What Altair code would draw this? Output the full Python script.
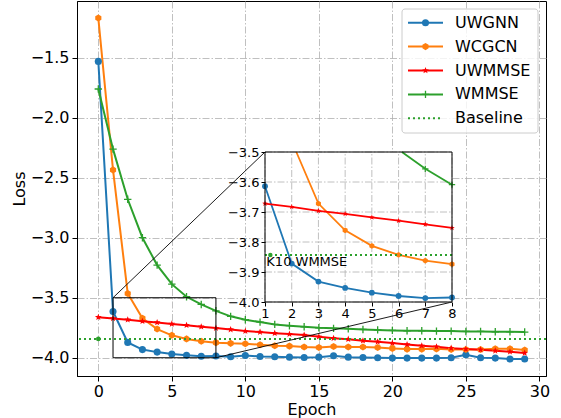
import math
import altair as alt
import pandas as pd

# ---------------- data ----------------
epochs = list(range(30))
uwgnn = [-1.531, -3.614, -3.872, -3.932, -3.953, -3.969, -3.980, -3.987, -3.985, -3.992,
         -3.981, -3.989, -3.992, -3.995, -3.998, -3.995, -3.983, -3.995, -3.998, -4.000,
         -4.003, -4.003, -4.003, -4.003, -4.000, -3.975, -4.000, -4.003, -4.011, -4.011]
wcgcn = [-1.170, -2.435, -3.464, -3.672, -3.761, -3.813, -3.843, -3.862, -3.874, -3.880,
         -3.883, -3.892, -3.900, -3.903, -3.911, -3.914, -3.906, -3.911, -3.911, -3.914,
         -3.922, -3.928, -3.928, -3.926, -3.931, -3.931, -3.931, -3.925, -3.925, -3.936]
uwmmse = [-3.662, -3.672, -3.683, -3.696, -3.706, -3.718, -3.729, -3.741, -3.753, -3.765,
          -3.778, -3.786, -3.795, -3.803, -3.811, -3.825, -3.837, -3.845, -3.858, -3.867,
          -3.878, -3.889, -3.900, -3.908, -3.920, -3.928, -3.933, -3.942, -3.950, -3.961]
wmmse = [-1.761, -2.262, -2.680, -3.000, -3.228, -3.387, -3.492, -3.556, -3.609, -3.655,
         -3.683, -3.703, -3.722, -3.733, -3.742, -3.750, -3.755, -3.758, -3.764, -3.768,
         -3.772, -3.775, -3.775, -3.778, -3.778, -3.781, -3.781, -3.784, -3.784, -3.786]
baseline_value = -3.843
baseline_label = "K10 WMMSE"

series_names = ["UWGNN", "WCGCN", "UWMMSE", "WMMSE"]
legend_names = series_names + ["Baseline"]
series_colors = ["#1f77b4", "#ff7f0e", "#ff0000", "#2ca02c", "#2ca02c"]

x_ticks = [0, 5, 10, 15, 20, 25, 30]
y_ticks = [-4.0, -3.5, -3.0, -2.5, -2.0, -1.5]
inset_x_ticks = [1, 2, 3, 4, 5, 6, 7, 8]
inset_y_ticks = [-4.0, -3.9, -3.8, -3.7, -3.6, -3.5]
inset_xlim = [1, 8]
inset_ylim = [-4.0, -3.5]

# ---------------- layout (pixels) ----------------
W, H = 469, 375
FONT = "DejaVu Sans"
IX_RANGE = [188, 375]
IY_RANGE = [301, 151]

# ---------------- marker paths ----------------
hexagon = "M0,-1L0.866,-0.5L0.866,0.5L0,1L-0.866,0.5L-0.866,-0.5Z"
_pts = []
for k in range(10):
    r = 1.0 if k % 2 == 0 else 0.42
    a = math.radians(-90 + 36 * k)
    _pts.append(f"{r*math.cos(a):.3f},{r*math.sin(a):.3f}")
star = "M" + "L".join(_pts) + "Z"
plus = "M-1,0L1,0M0,-1L0,1"

all_series = {"UWGNN": uwgnn, "WCGCN": wcgcn, "UWMMSE": uwmmse, "WMMSE": wmmse}
rows = []
for name, vals in all_series.items():
    for e, v in zip(epochs, vals):
        rows.append({"epoch": e, "loss": v, "series": name})
df = pd.DataFrame(rows)


def inset_view(xs, ys, lo, hi, ytop):
    """Points of a line as seen through the inset window (clipped at its top edge)."""
    out = []
    for i in range(len(xs)):
        if xs[i] < lo or xs[i] > hi:
            continue
        if ys[i] <= ytop:
            if out == [] and i > 0 and xs[i - 1] >= lo and ys[i - 1] > ytop:
                t = (ys[i - 1] - ytop) / (ys[i - 1] - ys[i])
                out.append((xs[i - 1] + t * (xs[i] - xs[i - 1]), ytop))
            out.append((xs[i], ys[i]))
    return out


irows = []
for name, vals in all_series.items():
    for (e, v) in inset_view(epochs, vals, inset_xlim[0], inset_xlim[1], inset_ylim[1]):
        irows.append({"epoch": e, "loss": v, "series": name})
idf = pd.DataFrame(irows)
ipts = df[(df.epoch >= inset_xlim[0]) & (df.epoch <= inset_xlim[1]) &
          (df.loss >= inset_ylim[0]) & (df.loss <= inset_ylim[1])]

color = alt.Color("series:N", scale=alt.Scale(domain=legend_names, range=series_colors), legend=None)
shape = alt.Shape("series:N", scale=alt.Scale(domain=["UWGNN", "WCGCN", "UWMMSE"],
                                               range=["circle", hexagon, star]), legend=None)

grid_dash = [7, 2, 1.5, 2]
grid_color = "#b0b0b0"

# ---------------- main panel ----------------
mxs = alt.Scale(domain=[-1.45, 30.45], nice=False, zero=False)
mys = alt.Scale(domain=[-4.152, -1.028], nice=False, zero=False)
mxa = alt.Axis(values=x_ticks, grid=True, gridDash=grid_dash, gridColor=grid_color, gridWidth=0.8,
               labelFontSize=16, titleFontSize=16, tickSize=5, labelPadding=2, titlePadding=2,
               labelFlush=False, titleFontWeight="normal", domainColor="black", tickColor="black",
               labelColor="black", titleColor="black")
mya = alt.Axis(values=y_ticks, format=".1f", grid=True, gridDash=grid_dash, gridColor=grid_color,
               gridWidth=0.8, labelFontSize=16, titleFontSize=16, tickSize=5, labelPadding=3,
               titlePadding=3, labelFlush=False, titleFontWeight="normal", domainColor="black",
               tickColor="black", labelColor="black", titleColor="black")


def MX(field=None, datum=None):
    if datum is not None:
        return alt.XDatum(datum, type="quantitative", scale=mxs, axis=mxa, title="Epoch")
    return alt.X(field, type="quantitative", scale=mxs, axis=mxa, title="Epoch")


def MY(field=None, datum=None):
    if datum is not None:
        return alt.YDatum(datum, type="quantitative", scale=mys, axis=mya, title="Loss")
    return alt.Y(field, type="quantitative", scale=mys, axis=mya, title="Loss")


base = alt.Chart(df)
m_lines = base.mark_line(strokeWidth=2).encode(x=MX("epoch"), y=MY("loss"), color=color,
                                               detail="series:N")
m_pts = base.transform_filter(alt.datum.series != "WMMSE").mark_point(
    filled=True, size=50, opacity=1).encode(x=MX("epoch"), y=MY("loss"), color=color, shape=shape)
m_plus = base.transform_filter(alt.datum.series == "WMMSE").mark_point(
    shape=plus, filled=False, size=55, strokeWidth=1.3, opacity=1, color="#2ca02c").encode(
    x=MX("epoch"), y=MY("loss"))
one = alt.Data(values=[{}])
m_base = alt.Chart(one).mark_rule(color="#2ca02c", strokeWidth=2, strokeDash=[2, 3]).encode(
    y=MY(datum=baseline_value))
m_base_dot = alt.Chart(one).mark_point(filled=True, size=22, opacity=1, color="#2ca02c").encode(
    x=MX(datum=0), y=MY(datum=baseline_value))
m_zoom = alt.Chart(one).mark_rect(fillOpacity=0, stroke="black", strokeWidth=1).encode(
    x=MX(datum=inset_xlim[0]), x2=alt.X2Datum(inset_xlim[1]),
    y=MY(datum=inset_ylim[0]), y2=alt.Y2Datum(inset_ylim[1]))
m_conn1 = alt.Chart(one).mark_rule(color="black", strokeWidth=0.9).encode(
    x=MX(datum=inset_xlim[0]), y=MY(datum=inset_ylim[1]),
    x2=alt.value(IX_RANGE[0]), y2=alt.value(IY_RANGE[1]))
m_conn2 = alt.Chart(one).mark_rule(color="black", strokeWidth=0.9).encode(
    x=MX(datum=inset_xlim[1]), y=MY(datum=inset_ylim[0]),
    x2=alt.value(IX_RANGE[1]), y2=alt.value(IY_RANGE[0]))

main = alt.layer(m_lines, m_pts, m_plus, m_base, m_base_dot, m_zoom, m_conn1, m_conn2)

# ---------------- inset panel ----------------
ixs = alt.Scale(domain=inset_xlim, range=IX_RANGE, nice=False, zero=False)
iys = alt.Scale(domain=inset_ylim, range=IY_RANGE, nice=False, zero=False)
ixa = alt.Axis(orient="bottom", offset=IY_RANGE[0] - H, values=inset_x_ticks, grid=False,
               domain=False, tickSize=4, labelFontSize=13, labelPadding=1, zindex=1,
               labelFlush=False, title=None, tickColor="black", labelColor="black")
iya = alt.Axis(orient="left", offset=-IX_RANGE[0], values=inset_y_ticks, format=".1f",
               grid=False, domain=False, tickSize=4, labelFontSize=13, labelPadding=2,
               zindex=1, labelFlush=False, title=None, tickColor="black", labelColor="black")


def IX(field=None, datum=None):
    if datum is not None:
        return alt.XDatum(datum, type="quantitative", scale=ixs, axis=ixa)
    return alt.X(field, type="quantitative", scale=ixs, axis=ixa)


def IY(field=None, datum=None):
    if datum is not None:
        return alt.YDatum(datum, type="quantitative", scale=iys, axis=iya)
    return alt.Y(field, type="quantitative", scale=iys, axis=iya)


i_bg = alt.Chart(one).mark_rect(fill="white", stroke=None).encode(
    x=IX(datum=inset_xlim[0]), x2=alt.X2Datum(inset_xlim[1]),
    y=IY(datum=inset_ylim[0]), y2=alt.Y2Datum(inset_ylim[1]))
i_vgrid = alt.Chart(pd.DataFrame({"t": inset_x_ticks})).mark_rule(
    color=grid_color, strokeWidth=0.8, strokeDash=grid_dash).encode(
    x=IX("t"), y=IY(datum=inset_ylim[0]), y2=alt.Y2Datum(inset_ylim[1]))
i_hgrid = alt.Chart(pd.DataFrame({"t": inset_y_ticks})).mark_rule(
    color=grid_color, strokeWidth=0.8, strokeDash=grid_dash).encode(
    y=IY("t"), x=IX(datum=inset_xlim[0]), x2=alt.X2Datum(inset_xlim[1]))
i_lines = alt.Chart(idf).mark_line(strokeWidth=1.8).encode(
    x=IX("epoch"), y=IY("loss"), color=color, detail="series:N")
i_pts = alt.Chart(ipts).transform_filter(alt.datum.series != "WMMSE").mark_point(
    filled=True, size=34, opacity=1).encode(x=IX("epoch"), y=IY("loss"), color=color, shape=shape)
i_plus = alt.Chart(ipts).transform_filter(alt.datum.series == "WMMSE").mark_point(
    shape=plus, filled=False, size=40, strokeWidth=1.2, opacity=1, color="#2ca02c").encode(
    x=IX("epoch"), y=IY("loss"))
i_base = alt.Chart(one).mark_rule(color="#2ca02c", strokeWidth=2, strokeDash=[2, 3]).encode(
    y=IY(datum=baseline_value), x=IX(datum=inset_xlim[0]), x2=alt.X2Datum(inset_xlim[1]))
i_base_dot = alt.Chart(one).mark_point(filled=True, size=20, opacity=1, color="#2ca02c").encode(
    x=IX(datum=1.2), y=IY(datum=baseline_value))
i_text = alt.Chart(one).mark_text(text=baseline_label, align="left", baseline="middle",
                                  fontSize=13, font=FONT, color="black").encode(
    x=IX(datum=1.05), y=IY(datum=-3.868))
i_box = alt.Chart(one).mark_rect(fillOpacity=0, stroke="black", strokeWidth=1).encode(
    x=IX(datum=inset_xlim[0]), x2=alt.X2Datum(inset_xlim[1]),
    y=IY(datum=inset_ylim[0]), y2=alt.Y2Datum(inset_ylim[1]))

inset = alt.layer(i_bg, i_vgrid, i_hgrid, i_lines, i_pts, i_plus, i_base, i_base_dot, i_text, i_box)

# ---------------- legend ----------------
ldf = pd.DataFrame({"series": legend_names})
LY = alt.Y("series:N", scale=alt.Scale(type="point", domain=legend_names, range=[21.7, 117.3],
                                       padding=0), axis=None)
l_box = alt.Chart(one).mark_rect(fill="white", fillOpacity=0.8, stroke="#cccccc", strokeWidth=1,
                                 cornerRadius=3).encode(
    x=alt.value(325), x2=alt.value(461), y=alt.value(8), y2=alt.value(132))
l_lines = alt.Chart(ldf).transform_filter(alt.datum.series != "Baseline").mark_rule(
    strokeWidth=2).encode(x=alt.value(331), x2=alt.value(366), y=LY, color=color)
l_dot = alt.Chart(ldf).transform_filter(alt.datum.series == "Baseline").mark_rule(
    strokeWidth=2, strokeDash=[2, 3]).encode(x=alt.value(331), x2=alt.value(366), y=LY, color=color)
l_pts = alt.Chart(ldf).transform_filter(
    alt.FieldOneOfPredicate(field="series", oneOf=["UWGNN", "WCGCN", "UWMMSE"])).mark_point(
    filled=True, size=50, opacity=1).encode(x=alt.value(348.5), y=LY, color=color, shape=shape)
l_plus = alt.Chart(ldf).transform_filter(alt.datum.series == "WMMSE").mark_point(
    shape=plus, filled=False, size=55, strokeWidth=1.3, opacity=1, color="#2ca02c").encode(
    x=alt.value(348.5), y=LY)
l_text = alt.Chart(ldf).mark_text(align="left", baseline="middle", fontSize=16, font=FONT,
                                  color="black").encode(x=alt.value(378), y=LY, text="series:N")
legend = alt.layer(l_box, l_lines, l_dot, l_pts, l_plus, l_text)

chart = alt.layer(main, inset, legend).resolve_scale(x="independent", y="independent").properties(
    width=W, height=H,
    padding={"left": 77, "top": 1, "right": 15, "bottom": 42},
    autosize=alt.AutoSizeParams(type="none"),
).configure(font=FONT).configure_view(stroke="black", strokeWidth=1).configure_axis(
    labelFont=FONT, titleFont=FONT)

chart.save("out.html", embed_options={"renderer": "svg", "actions": False})
